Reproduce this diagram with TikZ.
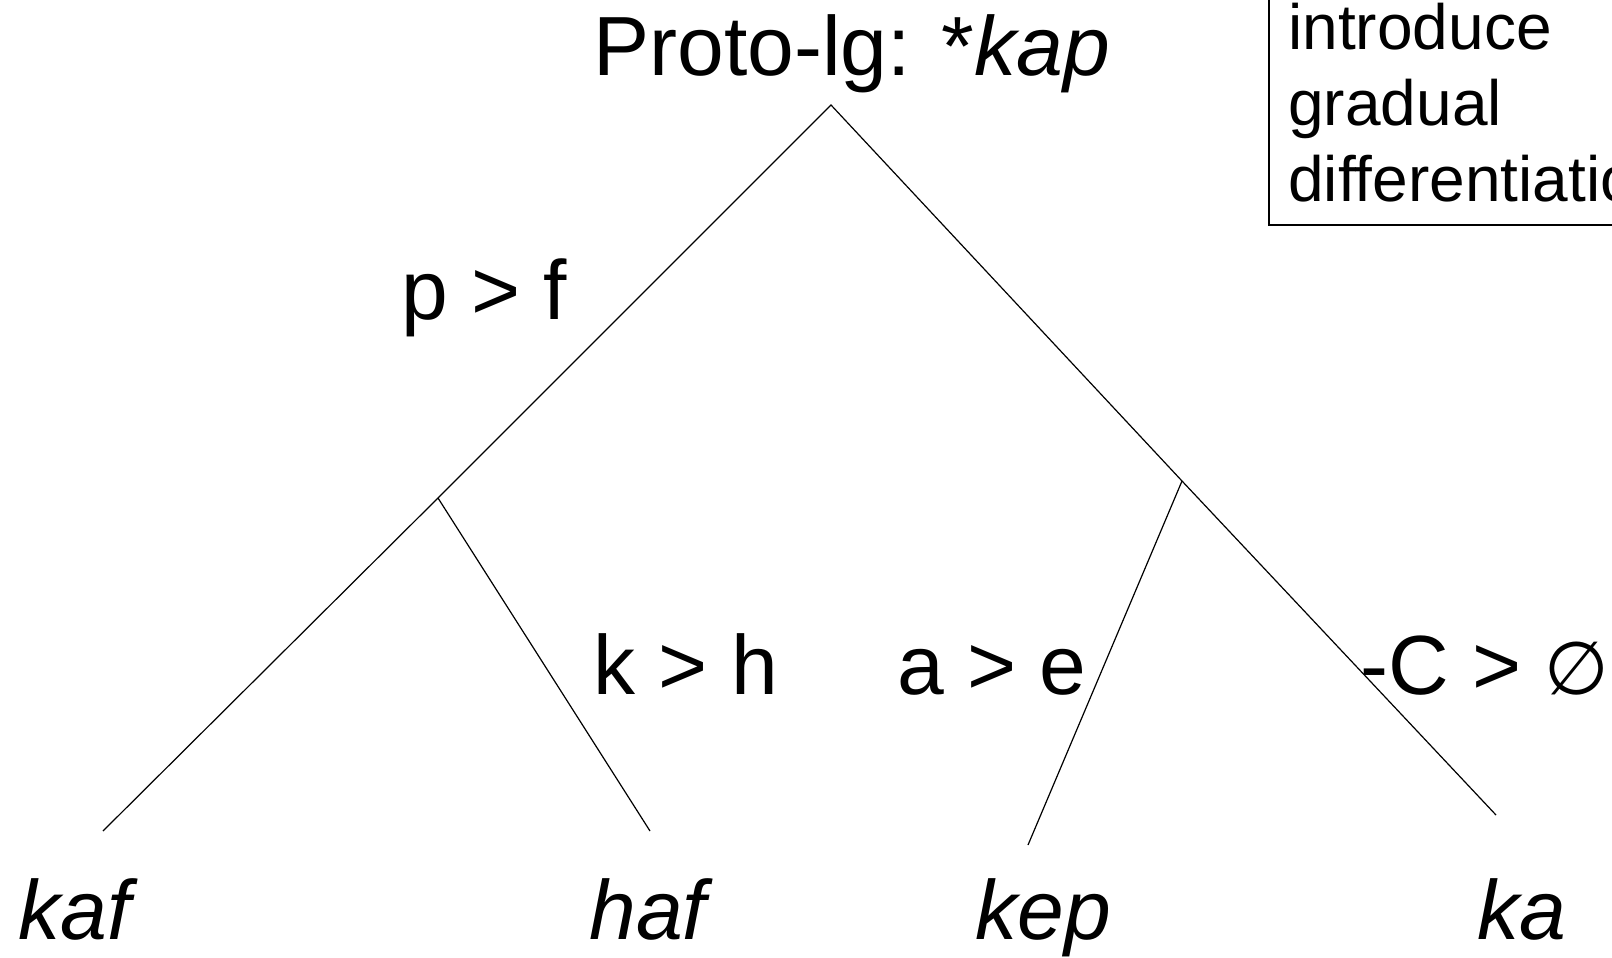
\documentclass[tikz,border=0pt]{standalone}
\usepackage{fontspec}
\setmainfont{Liberation Sans}
\newfontfamily\symfont{DejaVu Sans}
\usepackage{tikz}
\usetikzlibrary{calc}

\tikzset{
  branch/.style={draw=black,line width=0.6pt},
  lbl/.style={inner sep=0pt,anchor=base west,font=\fontsize{42}{48}\selectfont},
  leaf/.style={lbl,font=\fontsize{42}{48}\selectfont\itshape},
  notebox/.style={inner sep=0pt,anchor=base west,align=left,
    font=\fontsize{32}{38}\selectfont}
}

\begin{document}
\begin{tikzpicture}[x=0.5pt,y=-0.5pt]
    \useasboundingbox (0,0) rectangle (1612,958);
    \clip (0,0) rectangle (1612,958);
    % tree points
    \coordinate (root) at (831,105);
    \coordinate (left) at (438,498);
    \coordinate (right) at (1182,481);
    \coordinate (endkaf) at (103,831);
    \coordinate (endhaf) at (650,831);
    \coordinate (endkep) at (1028,845);
    \coordinate (endka) at (1496,815);
    \draw[branch] (endkaf) -- (left) -- (root) -- (right) -- (endka);
    \draw[branch] (left) -- (endhaf);
    \draw[branch] (right) -- (endkep);
    % labels
    \node[lbl] (proto) at (593,75) {Proto-lg: *\textit{kap}};
    \node[lbl] (pf) at (401,319) {p > f};
    \node[lbl] (kh) at (593,694) {k > h};
    \node[lbl] (ae) at (897,694) {a > e};
    \node[lbl] (cz) at (1360,694) {-C > {\symfont\fontsize{37}{40}\selectfont ∅}};
    \node[leaf] (kaf) at (18,939) {kaf};
    \node[leaf] (haf) at (589,939) {haf};
    \node[leaf] (kep) at (975,939) {kep};
    \node[leaf] (ka) at (1477,939) {ka};
    % box, cut off at the page edge
    \draw[line width=0.6pt] (1269,-20) -- (1269,225) -- (1640,225);
    \node[notebox] (note) at (1288,201) {introduce\\gradual\\differentiation};
  \end{tikzpicture}
\end{document}
